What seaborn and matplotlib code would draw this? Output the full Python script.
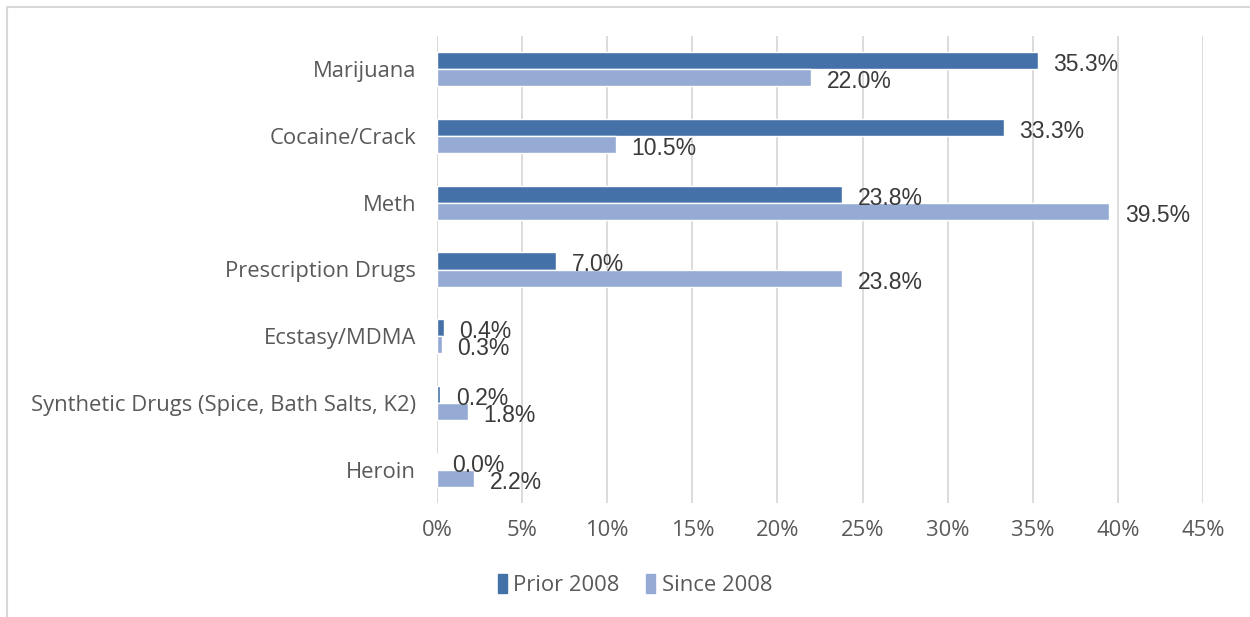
import matplotlib
matplotlib.use("Agg")
import matplotlib.pyplot as plt
import matplotlib.patches as mpatches
import seaborn as sns
import pandas as pd

categories = ["Marijuana", "Cocaine/Crack", "Meth", "Prescription Drugs",
              "Ecstasy/MDMA", "Synthetic Drugs (Spice, Bath Salts, K2)", "Heroin"]
prior_2008 = [35.3, 33.3, 23.8, 7.0, 0.4, 0.2, 0.0]
since_2008 = [22.0, 10.5, 39.5, 23.8, 0.3, 1.8, 2.2]
series_names = ["Prior 2008", "Since 2008"]
tick_values = [0, 5, 10, 15, 20, 25, 30, 35, 40, 45]
colors = ["#4472A8", "#95ABD3"]

df = pd.DataFrame({
    "category": categories * 2,
    "value": prior_2008 + since_2008,
    "series": [series_names[0]] * len(categories) + [series_names[1]] * len(categories),
})

sns.set_theme(style="white")
plt.rcParams["font.family"] = ["Open Sans", "DejaVu Sans"]

fig = plt.figure(figsize=(12.5, 6.17), dpi=100)
ax = fig.add_axes([437 / 1250, 1 - 503 / 617, (1203 - 437) / 1250, (503 - 36) / 617])

sns.barplot(data=df, x="value", y="category", hue="series", order=categories,
            hue_order=series_names, palette=colors, width=0.51, orient="h",
            saturation=1, ax=ax, legend=False)

ax.set_xlim(0, 45)
ax.set_ylim(len(categories) - 0.5, -0.5)
ax.set_xticks(tick_values)
ax.set_xticklabels([f"{v}%" for v in tick_values])
ax.xaxis.grid(True, color="#D9D9D9", linewidth=1.3)
ax.set_axisbelow(True)
for s in ax.spines.values():
    s.set_visible(False)
ax.axvline(0, color="#D9D9D9", linewidth=1.3, zorder=0)
ax.set_xlabel("")
ax.set_ylabel("")
ax.tick_params(axis="x", length=0, pad=12, labelsize=15.8, labelcolor="#595959")
ax.tick_params(axis="y", length=0, pad=15, labelsize=15.8, labelcolor="#595959")

# value labels beside each bar
for cont in ax.containers:
    for bar in cont:
        w = bar.get_width()
        yc = bar.get_y() + bar.get_height() / 2
        ax.text(w + 0.9, yc + 0.06, f"{w:.1f}%", ha="left", va="center",
                fontsize=16.5, color="#3A3A3A", family=["Liberation Sans", "DejaVu Sans"])

# legend below the axis
handles = [mpatches.Patch(color=c, label=n) for c, n in zip(colors, series_names)]
fig.legend(handles=handles, loc="center", bbox_to_anchor=(635 / 1250, 1 - 585 / 617),
           ncol=2, frameon=False, fontsize=15.8, handlelength=0.42, handleheight=0.95,
           handletextpad=0.3, columnspacing=1.2, labelcolor="#595959")

# outer chart frame
fig.patches.append(mpatches.Rectangle((7 / 1250, -0.1), 1.2, 1 - 7 / 617 + 0.1,
                                      transform=fig.transFigure, fill=False,
                                      edgecolor="#D9D9D9", linewidth=1.5))

fig.savefig("out.png", dpi=100)
